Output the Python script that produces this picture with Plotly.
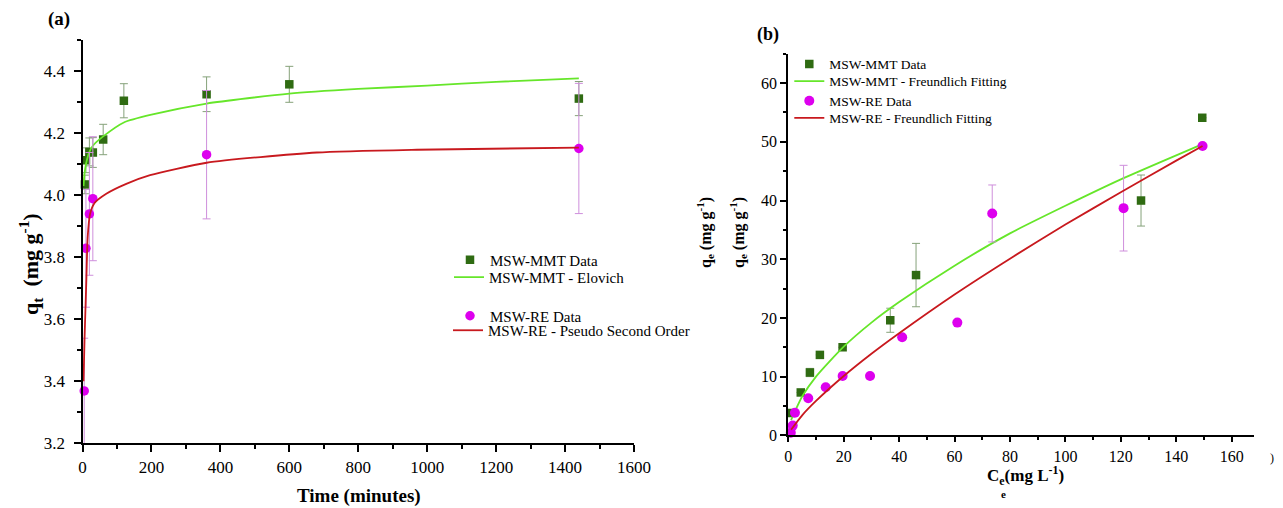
import plotly.graph_objects as go

# ---------------- Panel (a) data ----------------
mmt_t = [7, 10, 20, 30, 60, 120, 360, 600, 1440]
mmt_q = [4.035, 4.113, 4.140, 4.138, 4.180, 4.305, 4.326, 4.358, 4.312]
mmt_err = [0.03, 0.04, 0.045, 0.048, 0.049, 0.055, 0.056, 0.058, 0.055]

re_t = [5, 10, 20, 30, 360, 1440]
re_q = [3.369, 3.829, 3.940, 3.989, 4.131, 4.151]
re_err = [0.17, 0.19, 0.198, 0.20, 0.207, 0.21]

elovich_t = [3, 5, 10, 20, 30, 60, 120, 200, 360, 600, 800, 1000, 1200, 1440]
elovich_q = [4.03, 4.06, 4.10, 4.14, 4.16, 4.19, 4.235, 4.26, 4.296, 4.328, 4.343, 4.354, 4.366, 4.377]

pso_t = [3, 6, 11, 15, 22, 35, 69, 127, 196, 360, 680, 970, 1440]
pso_q = [3.40, 3.54, 3.72, 3.865, 3.94, 3.975, 4.005, 4.037, 4.065, 4.105, 4.138, 4.147, 4.154]

# ---------------- Panel (b) data ----------------
mmt_c = [0.8, 4.5, 7.8, 11.4, 19.6, 36.8, 46.1, 127.3, 149.4]
mmt_qe = [3.8, 7.3, 10.7, 13.7, 15.0, 19.6, 27.3, 40.0, 54.1]
mmt_qe_err = [0, 0, 0.7, 0, 0, 2.05, 5.4, 4.35, 0]

re_c = [0.9, 1.6, 2.4, 7.2, 13.5, 19.6, 29.5, 41.1, 61.0, 73.6, 121.0, 149.5]
re_qe = [0.45, 1.65, 3.85, 6.3, 8.2, 10.1, 10.1, 16.7, 19.2, 37.8, 38.7, 49.3]
re_qe_err = [0, 0, 0, 0, 0, 0, 0, 0, 0, 4.85, 7.3, 0]

fr_mmt_c = [1, 5, 10, 20, 30, 40, 60, 80, 100, 120, 140, 149.5]
fr_mmt_q = [2.6, 6.6, 10.0, 15.1, 19.2, 22.7, 28.9, 34.4, 39.1, 43.6, 47.7, 49.6]
fr_re_c = [1, 5, 10, 20, 30, 40, 60, 80, 100, 120, 140, 149.5]
fr_re_q = [0.95, 3.4, 5.85, 10.1, 13.9, 17.4, 24.0, 30.1, 35.9, 41.4, 46.8, 49.3]

GREEN_M = "#2f6b12"
GREEN_E = "#86a27a"
LIME = "#66e62a"
MAG = "#dd00ee"
MAG_E = "#cf8fdc"
RED = "#c8191e"
FONT = "Liberation Serif"

W, H = 1283, 508
def px(x):
    return x / W
def py(y):
    return 1 - y / H

fig = go.Figure()

# Panel (a)
fig.add_trace(go.Scatter(x=mmt_t, y=mmt_q, mode="markers", name="MSW-MMT Data",
    marker=dict(symbol="square", size=8.5, color=GREEN_M),
    error_y=dict(type="data", array=mmt_err, color=GREEN_E, thickness=1, width=4),
    xaxis="x", yaxis="y", legend="legend", cliponaxis=False))
fig.add_trace(go.Scatter(x=elovich_t, y=elovich_q, mode="lines", name="MSW-MMT - Elovich",
    line=dict(color=LIME, width=1.8, shape="spline", smoothing=0.6),
    xaxis="x", yaxis="y", legend="legend2"))
fig.add_trace(go.Scatter(x=re_t, y=re_q, mode="markers", name="MSW-RE Data",
    marker=dict(symbol="circle", size=9.5, color=MAG),
    error_y=dict(type="data", array=re_err, color=MAG_E, thickness=1, width=4),
    xaxis="x", yaxis="y", legend="legend3", cliponaxis=False))
fig.add_trace(go.Scatter(x=pso_t, y=pso_q, mode="lines", name="MSW-RE - Pseudo Second Order",
    line=dict(color=RED, width=1.8, shape="spline", smoothing=0.6),
    xaxis="x", yaxis="y", legend="legend4"))

# Panel (b)
fig.add_trace(go.Scatter(x=mmt_c, y=mmt_qe, mode="markers", name="MSW-MMT Data",
    marker=dict(symbol="square", size=8.5, color=GREEN_M),
    error_y=dict(type="data", array=mmt_qe_err, color=GREEN_E, thickness=1, width=4),
    xaxis="x2", yaxis="y2", legend="legend5", cliponaxis=False))
fig.add_trace(go.Scatter(x=fr_mmt_c, y=fr_mmt_q, mode="lines", name="MSW-MMT - Freundlich Fitting",
    line=dict(color=LIME, width=1.8, shape="spline", smoothing=0.6),
    xaxis="x2", yaxis="y2", legend="legend6"))
fig.add_trace(go.Scatter(x=re_c, y=re_qe, mode="markers", name="MSW-RE Data",
    marker=dict(symbol="circle", size=10, color=MAG),
    error_y=dict(type="data", array=re_qe_err, color=MAG_E, thickness=1, width=4),
    xaxis="x2", yaxis="y2", legend="legend7", cliponaxis=False))
fig.add_trace(go.Scatter(x=fr_re_c, y=fr_re_q, mode="lines", name="MSW-RE - Freundlich Fitting",
    line=dict(color=RED, width=1.8, shape="spline", smoothing=0.6),
    xaxis="x2", yaxis="y2", legend="legend8"))

axis_common = dict(showline=True, linecolor="black", linewidth=2, showgrid=False,
                   zeroline=False, ticks="outside", tickcolor="black", tickwidth=1.5,
                   mirror=False, automargin=False)

def leg(x, y, size):
    return dict(x=px(x), y=py(y), xanchor="left", yanchor="middle",
                bgcolor="rgba(0,0,0,0)", borderwidth=0,
                font=dict(size=size, family=FONT, color="black"), itemwidth=30)

fig.update_layout(
    width=W, height=H, margin=dict(l=0, r=0, t=0, b=0, autoexpand=False),
    paper_bgcolor="white", plot_bgcolor="white",
    font=dict(family=FONT, color="black"),
    xaxis=dict(domain=[px(82.5), px(634)], range=[0, 1600], dtick=200, anchor="y",
               ticklen=7, tickfont=dict(size=17, family=FONT),
               minor=dict(ticks="outside", dtick=100, ticklen=4, tickcolor="black", tickwidth=1.5),
               **axis_common),
    yaxis=dict(domain=[py(443.3), py(40.3)], range=[3.2, 4.5], dtick=0.2, tick0=3.2,
               ticklen=7, ticklabelstandoff=5,
               tickformat=".1f", anchor="x", tickfont=dict(size=17, family=FONT),
               minor=dict(ticks="outside", dtick=0.1, ticklen=4, tickcolor="black", tickwidth=1.5),
               **axis_common),
    xaxis2=dict(domain=[px(788.3), px(1253.8)], range=[0, 168], dtick=20, anchor="y2",
                ticklen=5, tickfont=dict(size=16, family=FONT),
                minor=dict(ticks="outside", dtick=10, ticklen=3, tickcolor="black", tickwidth=1.5),
                **axis_common),
    yaxis2=dict(domain=[py(435.3), py(53.8)], range=[0, 65], dtick=10, anchor="x2",
                ticklen=6, tickfont=dict(size=16, family=FONT),
                minor=dict(ticks="outside", dtick=5, ticklen=3, tickcolor="black", tickwidth=1.5),
                **axis_common),
    legend=leg(450, 260, 15),
    legend2=leg(449, 277.3, 15),
    legend3=leg(450, 316, 15),
    legend4=leg(448, 330.5, 15),
    legend5=leg(789.3, 64.3, 13.5),
    legend6=leg(789.3, 81.3, 13.5),
    legend7=leg(789.3, 101, 13.5),
    legend8=leg(789.3, 118, 13.5),
    showlegend=True,
)

ann = [
    dict(text="<b>(a)</b>", x=px(59), y=py(19), size=19),
    dict(text="<b>(b)</b>", x=px(768), y=py(35), size=18),
    dict(text="<b>Time (minutes)</b>", x=px(359), y=py(496), size=19),
    dict(text="<b>C<sub>e</sub>(mg L<sup>-1</sup>)</b>", x=px(1025), y=py(475), size=17),
    dict(text="<b>q<sub>t</sub>  (mg g<sup>-1</sup>)</b>", x=px(30), y=py(264), size=22, angle=-90),
    dict(text="<b>q<sub>e</sub> (mg g<sup>-1</sup>)</b>", x=px(705), y=py(233), size=16, angle=-90),
    dict(text="<b>q<sub>e</sub> (mg g<sup>-1</sup>)</b>", x=px(738), y=py(233), size=16, angle=-90),
    dict(text="<b>e</b>", x=px(1003), y=py(494), size=11),
    dict(text=")", x=px(1272), y=py(458), size=12),
]
for a in ann:
    fig.add_annotation(text=a["text"], x=a["x"], y=a["y"], xref="paper", yref="paper",
                       xanchor="center", yanchor="middle", showarrow=False,
                       textangle=a.get("angle", 0),
                       font=dict(family=FONT, size=a["size"], color="black"))

fig.write_html(
    "out.html",
    config={"displayModeBar": False},
    post_script="document.documentElement.style.margin='0';document.body.style.margin='0';"
                "document.body.style.overflow='hidden';",
)
